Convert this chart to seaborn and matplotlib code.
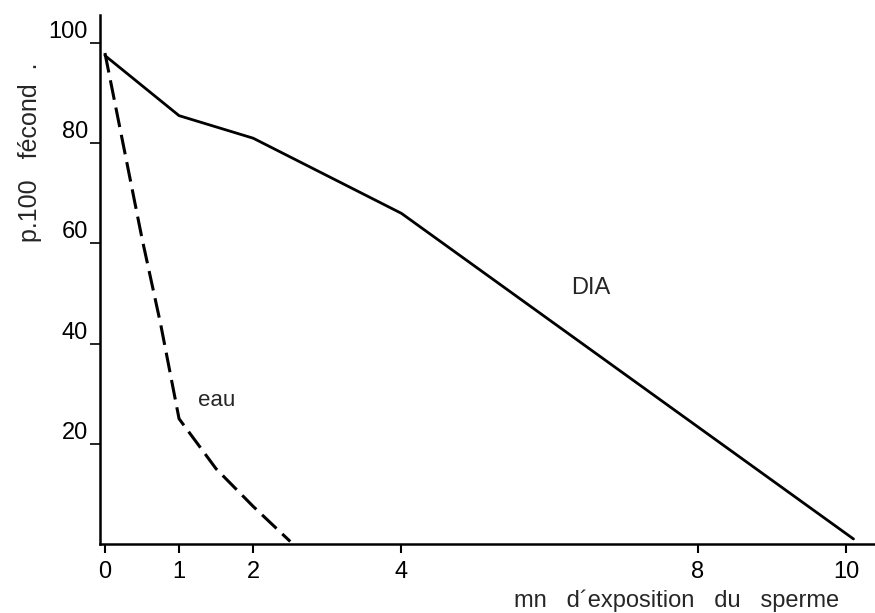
import pandas as pd
import seaborn as sns
import matplotlib.pyplot as plt

# values
dia_minutes = [0.0, 1.0, 2.0, 4.0, 10.1]
dia_fecond = [97.5, 85.5, 81.0, 66.0, 1.0]

eau_minutes = [0.0, 0.5, 0.75, 1.0, 1.5, 2.0, 2.5]
eau_fecond = [98.0, 61.0, 44.0, 25.0, 15.0, 7.5, 0.5]

x_ticks = [0, 1, 2, 4, 8, 10]
y_ticks = [20, 40, 60, 80, 100]

dia = pd.DataFrame({'mn': dia_minutes, 'fecond': dia_fecond})
eau = pd.DataFrame({'mn': eau_minutes, 'fecond': eau_fecond})

sns.set_style('ticks')
plt.rcParams['font.family'] = ['Liberation Sans', 'DejaVu Sans']

fig = plt.figure(figsize=(8.75, 6.13), dpi=100)
ax = fig.add_axes([0.114, 0.1126, 0.886, 0.863])

sns.lineplot(data=dia, x='mn', y='fecond', ax=ax, color='black', lw=2.0)
sns.lineplot(data=eau, x='mn', y='fecond', ax=ax, color='black', lw=2.2)
ax.lines[-1].set_dashes((6.5, 2.6))

ax.set_xlim(-0.07, 10.39)
ax.set_ylim(0, 105.6)
ax.set_xticks(x_ticks)
ax.set_yticks(y_ticks)
ax.set_xticklabels([str(t) for t in x_ticks])
ax.set_yticklabels([str(t) for t in y_ticks])
sns.despine(ax=ax)
for side in ['left', 'bottom']:
    ax.spines[side].set_linewidth(1.8)
    ax.spines[side].set_color('black')

ax.tick_params(axis='x', direction='out', length=6.5, width=1.5, pad=6,
               labelsize=17, colors='black')
ax.tick_params(axis='y', direction='out', length=7.5, width=1.2, pad=1,
               labelsize=17, colors='black')
plt.setp(ax.get_yticklabels(), va='bottom')

ax.set_xlabel('')
ax.set_ylabel('')
ax.text(6.56, 51, 'DIA', fontsize=17, ha='center', va='center')
ax.text(1.51, 28.7, 'eau', fontsize=16, ha='center', va='center')

fig.text(0.959, 1 - 601 / 613, "mn   d\u00b4exposition   du   sperme", fontsize=17,
         ha='right', va='center')
fig.text(30 / 875, 1 - 152 / 613, 'p.100   f\u00e9cond  .', fontsize=18,
         rotation=90, ha='center', va='center')

fig.savefig('out.png', dpi=100)
